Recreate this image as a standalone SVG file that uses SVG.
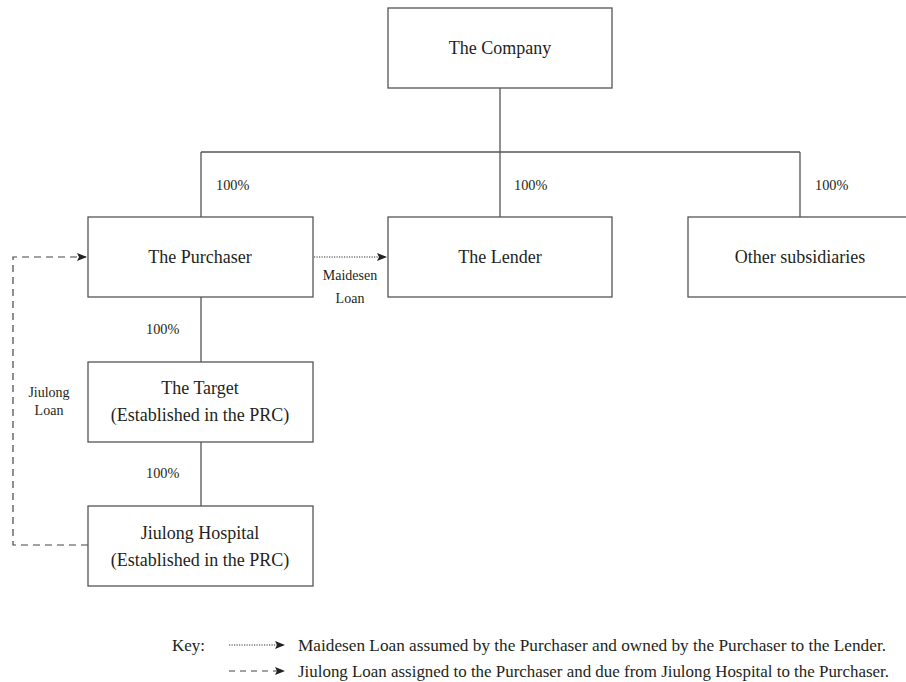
<svg xmlns="http://www.w3.org/2000/svg" width="906" height="682" viewBox="0 0 906 682">
<style>
text{font-family:"Liberation Serif","Times New Roman",serif;fill:#231f20}
.box{fill:#fff;stroke:#555;stroke-width:1.3}
.n{font-size:18px;text-anchor:middle}
.p{font-size:14.3px}
.l{font-size:14px;text-anchor:middle}
.k{font-size:17px}
.ln{fill:none;stroke:#555;stroke-width:1.3}
.dot{fill:none;stroke:#333;stroke-width:1.2;stroke-dasharray:1.2 1.3}
.dash{fill:none;stroke:#444;stroke-width:1.2;stroke-dasharray:7 5}
</style>
<defs>
<marker id="ah" markerWidth="10" markerHeight="8" refX="9" refY="4" orient="auto" markerUnits="userSpaceOnUse">
<path d="M0,0 L10,4 L0,8 L2,4 Z" fill="#222"/>
</marker>
</defs>
<g id="connectors">
<path class="ln" d="M500,88 V152 M201,152 H800 M201,152 V217 M500,152 V217 M800,152 V217 M201,297 V362 M201,442 V506"/>
<path class="dot" d="M314,257 H386" marker-end="url(#ah)"/>
<path class="dash" d="M88,545 H13 V257 H86" marker-end="url(#ah)"/>
<text class="p" x="216" y="190">100%</text>
<text class="p" x="514" y="190">100%</text>
<text class="p" x="815" y="190">100%</text>
<text class="p" x="146" y="334">100%</text>
<text class="p" x="146" y="478">100%</text>
<text class="l" x="350" y="280">Maidesen</text>
<text class="l" x="350" y="303">Loan</text>
<text class="l" x="49" y="397">Jiulong</text>
<text class="l" x="49" y="415">Loan</text>
</g>
<g id="company"><rect class="box" x="388" y="8" width="224" height="80"/><text class="n" x="500" y="54">The Company</text></g>
<g id="purchaser"><rect class="box" x="88" y="217" width="225" height="80"/><text class="n" x="200" y="263">The Purchaser</text></g>
<g id="lender"><rect class="box" x="388" y="217" width="224" height="80"/><text class="n" x="500" y="263">The Lender</text></g>
<g id="other"><rect class="box" x="688" y="217" width="224" height="80"/><text class="n" x="800" y="263">Other subsidiaries</text></g>
<g id="target"><rect class="box" x="88" y="362" width="225" height="80"/><text class="n" x="200" y="394">The Target</text><text class="n" x="200" y="421">(Established in the PRC)</text></g>
<g id="hospital"><rect class="box" x="88" y="506" width="225" height="80"/><text class="n" x="200" y="539">Jiulong Hospital</text><text class="n" x="200" y="566">(Established in the PRC)</text></g>
<g id="key">
<text class="k" x="172" y="651">Key:</text>
<path class="dot" d="M229,645 H284" marker-end="url(#ah)"/>
<path class="dash" d="M229,671 H284" marker-end="url(#ah)" style="stroke-dasharray:6 5"/>
<text class="k" x="298" y="651" textLength="588" lengthAdjust="spacingAndGlyphs">Maidesen Loan assumed by the Purchaser and owned by the Purchaser to the Lender.</text>
<text class="k" x="298" y="677" textLength="591" lengthAdjust="spacingAndGlyphs">Jiulong Loan assigned to the Purchaser and due from Jiulong Hospital to the Purchaser.</text>
</g>
</svg>
